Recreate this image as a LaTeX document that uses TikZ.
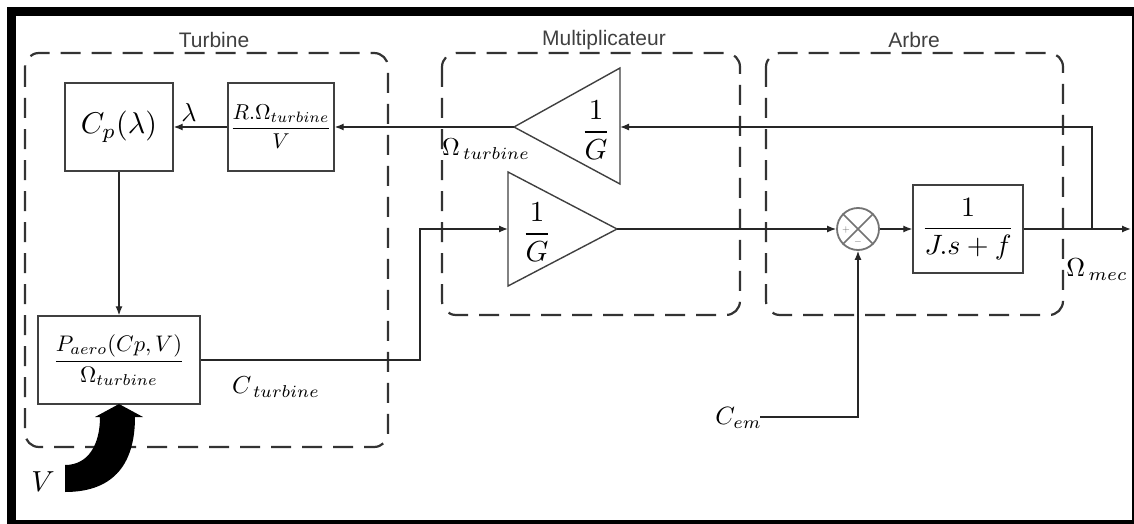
\documentclass[tikz,border=0pt]{standalone}
\usepackage{graphicx}
\usepackage{fontspec}
\setsansfont{Liberation Sans}
\usetikzlibrary{arrows.meta}
\newcommand\fsz[1]{\fontsize{#1}{#1}\selectfont}
\newcommand\mth[2]{\scalebox{#1}{$#2$}}
\begin{document}
\begin{tikzpicture}[x=1pt,y=-1pt,
  grp/.style={draw=black!80, line width=2.2pt, dash pattern=on 20pt off 11pt, rounded corners=14pt},
  blk/.style={draw=black!75, line width=1.4pt, inner sep=0pt},
  sig/.style={draw=black!85, line width=1.3pt, -{Latex[length=9pt,width=7pt]}},
  ttl/.style={font=\sffamily\fsz{21}, text=black!75},
  lbl/.style={inner sep=0pt}]
\useasboundingbox (0,0) rectangle (1134,524);
% frame
\fill[black] (7,7) rectangle (1134,524);
\fill[white] (16,16) rectangle (1132,520);

% groups
\draw[grp] (25,53) rectangle (388,447);
\draw[grp] (442,53) rectangle (740,315);
\draw[grp] (766,53) rectangle (1063,315);
\node[ttl] (tturb) at (214,40) {Turbine};
\node[ttl] (tmult) at (604,40) {Multiplicateur};
\node[ttl] (tarb) at (914,40) {Arbre};

% blocks
\node[blk, minimum width=108pt, minimum height=88pt] (cp) at (119,127) {\mth{3.0}{C_p(\lambda)}};
\node[blk, minimum width=106pt, minimum height=88pt] (rw) at (281,127) {\mth{2.15}{\displaystyle\frac{R.\Omega_{turbine}}{V}}};
\node[blk, minimum width=162pt, minimum height=88pt] (pa) at (119,360) {\mth{2.25}{\displaystyle\frac{P_{aero}(Cp,V)}{\Omega_{turbine}}}};
\node[blk, minimum width=110pt, minimum height=88pt] (jf) at (968,229) {\mth{2.8}{\displaystyle\frac{1}{J.s+f}}};
\node[circle, draw=black!55, line width=1.8pt, minimum size=42pt, inner sep=0pt] (sum) at (858,229) {};
\draw[black!55, line width=1.5pt] (sum.north west) -- (sum.south east) (sum.north east) -- (sum.south west);
\node[lbl, text=black!60] (plus) at (846,230) {\mth{1.0}{+}};
\node[lbl, text=black!60] (minus) at (858,242) {\mth{1.0}{-}};

% triangles
\coordinate (t1a) at (514,127);
\coordinate (t1t) at (620,68);
\coordinate (t1b) at (620,184);
\coordinate (t1in) at (620,127);
\draw[blk] (t1a) -- (t1t) -- (t1b) -- cycle;
\node[lbl] (g1) at (596,130) {\mth{2.9}{\displaystyle\frac{1}{G}}};
\coordinate (t2a) at (617,229);
\coordinate (t2t) at (508,172);
\coordinate (t2b) at (508,286);
\coordinate (t2in) at (508,229);
\draw[blk] (t2a) -- (t2t) -- (t2b) -- cycle;
\node[lbl] (g2) at (537,232) {\mth{2.9}{\displaystyle\frac{1}{G}}};

% wind arrow
\fill[black] (65,465) .. controls (88,465) and (100,445) .. (100,417) -- (95,417) -- (119,404) -- (143,417) -- (135,417) .. controls (135,468) and (110,492) .. (65,492) -- cycle;
\node[lbl] (v) at (43,482) {\mth{2.9}{V}};

% connectors
\coordinate (br) at (1092,229);
\coordinate (out) at (1131,229);
\coordinate (cem) at (760,417);
\coordinate (c1) at (420,360);
\draw[sig] (rw.west) -- (cp.east);
\draw[sig] (t1a) -- (rw.east);
\draw[sig] (br) -- (1092,127) -- (t1in);
\draw[sig] (cp.south) -- (pa.north);
\draw[sig] (pa.east |- c1) -- (c1) -- (c1 |- t2in) -- (t2in);
\draw[sig] (t2a) -- (sum.west);
\draw[sig] (sum.east) -- (jf.west);
\draw[sig] (jf.east) -- (out);
\draw[sig] (cem) -- (sum.south |- cem) -- (sum.south);

% labels
\node[lbl] (lam) at (189,112) {\mth{2.6}{\lambda}};
\node[lbl] (omt) at (486,149) {\mth{2.45}{\Omega_{\,turbine}}};
\node[lbl] (ct) at (276,387) {\mth{2.45}{C_{\,turbine}}};
\node[lbl] (omm) at (1097,270) {\mth{2.6}{\Omega_{\,mec}}};
\node[lbl, anchor=east] (cemlbl) at (762,418) {\mth{2.5}{C_{em}}};
\end{tikzpicture}
\end{document}
